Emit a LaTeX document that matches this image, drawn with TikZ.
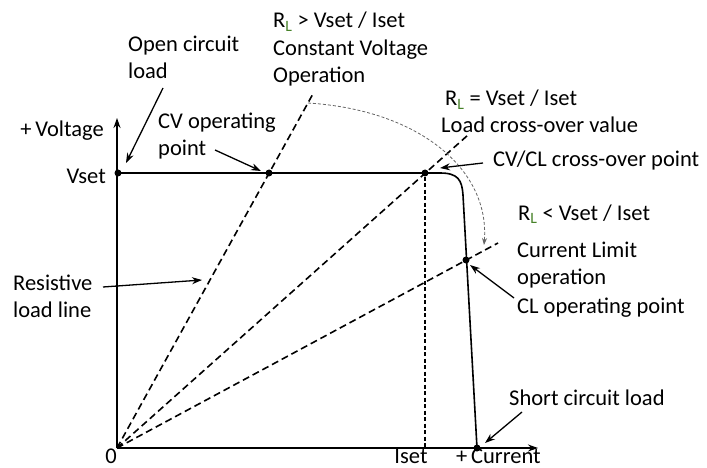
\documentclass[tikz,border=0pt]{standalone}
\usepackage{fontspec}
\setmainfont{Carlito}
\usetikzlibrary{arrows.meta}
\definecolor{subgreen}{RGB}{70,130,40}
\newcommand{\RLsym}{R\textsubscript{\color{subgreen}L}}
\begin{document}
\begin{tikzpicture}[x=1pt,y=-1pt,
  lbl/.style={anchor=base west, inner sep=0pt, font=\fontsize{22.5}{27}\selectfont},
  axisline/.style={line width=2.6pt, -{Stealth[length=10pt,width=7pt]}},
  curveline/.style={line width=1.6pt},
  loadline/.style={line width=1.6pt, dash pattern=on 7pt off 4pt},
  thindash/.style={line width=1.2pt, dash pattern=on 4pt off 2.5pt},
  swing/.style={line width=0.8pt, gray!80!black, dash pattern=on 3pt off 2pt, -{Stealth[length=7pt,width=5pt]}},
  dotmark/.style={circle, fill, inner sep=0pt, minimum size=7pt},
  pointer/.style={line width=1.3pt, -{Stealth[length=10pt,width=7pt]}}]
\useasboundingbox (0,0) rectangle (707,468);
\fill[white] (0,0) rectangle (707,468);
% key coordinates
\coordinate (O) at (117,448);
\coordinate (ytip) at (117,118);
\coordinate (xtip) at (538,448);
\coordinate (bend1) at (440,173);
\coordinate (bend2) at (463,195);
\coordinate (iset) at (425,448);
% dots
\node[dotmark] (vset) at (118,173) {};
\node[dotmark] (cvp) at (269,173) {};
\node[dotmark] (xo) at (425,173) {};
\node[dotmark] (clp) at (466,260) {};
\node[dotmark] (sc) at (477,448) {};
% load lines ends
\coordinate (l1end) at (314,92);
\coordinate (l2end) at (468,135);
\coordinate (l3end) at (498,243);
% load lines
\draw[loadline] (O) -- (l1end);
\draw[loadline] (O) -- (l2end);
\draw[loadline] (O) -- (l3end);
% iset dashed vertical
\draw[thindash] (xo) -- (iset);
% characteristic curve
\draw[curveline] (vset.center) -- (bend1) .. controls (458,173) and (462,180) .. (bend2) -- (sc.center);
% axes
\draw[axisline] (O) -- (ytip);
\draw[axisline] (O) -- (xtip);
% swing arrow
\coordinate (sw1) at (308,103);
\coordinate (sw2) at (484,245);
\draw[swing] (sw1) .. controls (420,110) and (490,170) .. (sw2);
% labels
\node[lbl, anchor=base east] (tvolt) at (104,137) {+\,Voltage};
\node[lbl, anchor=base east] (tvset) at (106,183) {Vset};
\node[lbl, anchor=base] (tzero) at (111,463) {0};
\node[lbl, anchor=base] (tiset) at (411,463) {Iset};
\node[lbl] (tcur) at (456,463) {+\,Current};
\node[lbl] (tgt1) at (273,28) {\RLsym\ > Vset / Iset};
\node[lbl] (tgt2) at (273,56) {Constant Voltage};
\node[lbl] (tgt3) at (273,83) {Operation};
\node[lbl] (toc1) at (128,52) {Open circuit};
\node[lbl] (toc2) at (128,79) {load};
\node[lbl] (tcv1) at (158,129) {CV operating};
\node[lbl] (tcv2) at (158,156) {point};
\node[lbl] (teq1) at (445,106) {\RLsym\ = Vset / Iset};
\node[lbl] (teq2) at (441,133) {Load cross-over value};
\node[lbl] (txo) at (493,167) {CV/CL cross-over point};
\node[lbl] (tlt1) at (518,220) {\RLsym\ < Vset / Iset};
\node[lbl] (tlt2) at (517,257) {Current Limit};
\node[lbl] (tlt3) at (517,284) {operation};
\node[lbl] (tlt4) at (517,313) {CL operating point};
\node[lbl] (tsc) at (509,405) {Short circuit load};
\node[lbl] (trl1) at (13,290) {Resistive};
\node[lbl] (trl2) at (13,317) {load line};
% pointers
\coordinate (p1s) at (163,88);   \coordinate (p1e) at (126,163);
\coordinate (p2s) at (215,150);  \coordinate (p2e) at (261,171);
\coordinate (p3s) at (103,287);  \coordinate (p3e) at (202,280);
\coordinate (p4s) at (483,163);  \coordinate (p4e) at (440,168);
\coordinate (p5s) at (514,298);  \coordinate (p5e) at (470,265);
\coordinate (p6s) at (522,412);  \coordinate (p6e) at (485,443);
\draw[pointer] (p1s) -- (p1e);
\draw[pointer] (p2s) -- (p2e);
\draw[pointer] (p3s) -- (p3e);
\draw[pointer] (p4s) -- (p4e);
\draw[pointer] (p5s) -- (p5e);
\draw[pointer] (p6s) -- (p6e);
\end{tikzpicture}
\end{document}
